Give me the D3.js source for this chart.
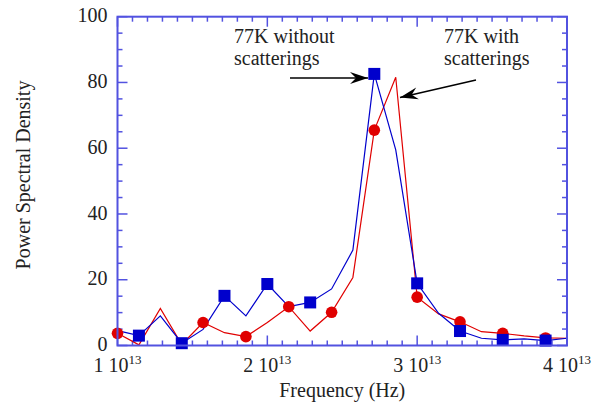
<!DOCTYPE html>
<meta charset="utf-8">
<style>
  body { margin: 0; background: #fff; }
</style>
<script src="https://d3js.org/d3.v7.min.js"></script>
<div id="chart"></div>
<script>

    // frequency in units of 1e13 Hz, one sample every 1/7
    const freq = [1.000, 1.143, 1.286, 1.429, 1.571, 1.714, 1.857, 2.000, 2.143, 2.286, 2.429,
                  2.571, 2.714, 2.857, 3.000, 3.143, 3.286, 3.429, 3.571, 3.714, 3.857, 4.000];
    // 77K without scatterings (blue)
    const psdWithout = [4.5, 3.0, 9.0, 0.7, 4.9, 15.1, 9.0, 18.7, 11.8, 13.1, 17.2,
                        29.0, 82.6, 59.5, 18.9, 9.8, 4.4, 2.2, 1.7, 2.0, 1.5, 2.2];
    // 77K with scatterings (red)
    const psdWith = [3.7, 0.2, 11.3, 0.3, 7.0, 3.9, 2.7, 7.0, 11.8, 4.4, 10.1,
                     20.7, 65.5, 81.6, 14.7, 9.6, 7.2, 4.2, 3.7, 2.9, 2.3, 2.2];
    // which samples carry a marker
    const squareIdx = [1, 3, 5, 7, 9, 12, 14, 16, 18, 20];
    const circleIdx = [0, 4, 6, 8, 10, 12, 14, 16, 18, 20];

    const xTicks = [1, 2, 3, 4];
    const yTicks = [0, 20, 40, 60, 80, 100];

    const W = 600, H = 407;
    const margin = {top: 16.7, right: 33, bottom: 61.5, left: 117.5};
    const width = W - margin.left - margin.right;
    const height = H - margin.top - margin.bottom;

    const axisColor = "#5252e0";
    const blue = "#0000cc";
    const red = "#e00000";
    const serif = "'Liberation Serif', 'DejaVu Serif', serif";

    const svg = d3.select("#chart").append("svg")
        .attr("width", W).attr("height", H)
        .attr("font-family", serif);
    const g = svg.append("g")
        .attr("transform", "translate(" + margin.left + "," + margin.top + ")");

    const x = d3.scaleLinear().domain([1, 4]).range([0, width]);
    const y = d3.scaleLinear().domain([0, 100]).range([height, 0]);

    // inward ticks on all four sides
    const xMinor = d3.range(10, 41).map(d => d / 10);
    const yMinor = d3.range(0, 101, 5);
    const isMajX = d => Math.abs(d - Math.round(d)) < 1e-6;
    const isMajY = d => d % 20 === 0;

    const ticks = g.append("g").attr("stroke", axisColor).attr("stroke-width", 1.5);
    xMinor.forEach(d => {
        const len = isMajX(d) ? 10 : 5;
        ticks.append("line").attr("x1", x(d)).attr("x2", x(d)).attr("y1", height).attr("y2", height - len);
        ticks.append("line").attr("x1", x(d)).attr("x2", x(d)).attr("y1", 0).attr("y2", len);
    });
    yMinor.forEach(d => {
        const len = isMajY(d) ? 10 : 5;
        ticks.append("line").attr("y1", y(d)).attr("y2", y(d)).attr("x1", 0).attr("x2", len);
        ticks.append("line").attr("y1", y(d)).attr("y2", y(d)).attr("x1", width).attr("x2", width - len);
    });

    // lines
    const line = arr => d3.line().x((d, i) => x(freq[i])).y(d => y(d))(arr);
    g.append("path").attr("d", line(psdWith)).attr("fill", "none").attr("stroke", red).attr("stroke-width", 1.2);
    g.append("path").attr("d", line(psdWithout)).attr("fill", "none").attr("stroke", blue).attr("stroke-width", 1.2);

    // markers
    g.selectAll(".circ").data(circleIdx).enter().append("circle")
        .attr("cx", i => x(freq[i])).attr("cy", i => y(psdWith[i])).attr("r", 5.8)
        .attr("fill", red);
    g.selectAll(".sq").data(squareIdx).enter().append("rect")
        .attr("x", i => x(freq[i]) - 6).attr("y", i => y(psdWithout[i]) - 6)
        .attr("width", 12).attr("height", 12).attr("fill", blue);

    // frame
    g.append("rect").attr("width", width).attr("height", height)
        .attr("fill", "none").attr("stroke", axisColor).attr("stroke-width", 2);

    // tick labels
    yTicks.forEach(d => {
        g.append("text").attr("x", -10).attr("y", y(d)).attr("dy", "0.28em")
            .attr("text-anchor", "end").attr("font-size", "20px").attr("fill", "#222").text(d);
    });
    xTicks.forEach(d => {
        const t = g.append("text").attr("x", x(d)).attr("y", height + 27)
            .attr("text-anchor", "middle").attr("font-size", "20px").attr("fill", "#222");
        t.append("tspan").text(d + " 10");
        t.append("tspan").attr("font-size", "13px").attr("dy", -8).text("13");
    });

    // axis titles
    g.append("text").attr("x", width / 2).attr("y", height + 52)
        .attr("text-anchor", "middle").attr("font-size", "20px").attr("fill", "#222").text("Frequency (Hz)");
    svg.append("text").attr("transform", "translate(30,175) rotate(-90)")
        .attr("text-anchor", "middle").attr("font-size", "20px").attr("fill", "#222").text("Power Spectral Density");

    // annotations
    function label(x0, y0, lines) {
        lines.forEach((s, k) => {
            svg.append("text").attr("x", x0).attr("y", y0 + k * 22)
                .attr("font-size", "20px").attr("fill", "#222").text(s);
        });
    }
    label(234, 43, ["77K without", "scatterings"]);
    label(444, 43, ["77K with", "scatterings"]);

    function arrow(x1, y1, x2, y2) {
        svg.append("line").attr("x1", x1).attr("y1", y1).attr("x2", x2).attr("y2", y2)
            .attr("stroke", "#000").attr("stroke-width", 1.5);
        const a = Math.atan2(y2 - y1, x2 - x1);
        const L = 18, Wd = 6, notch = 12;
        const pt = (dx, dy) => [x2 + dx * Math.cos(a) - dy * Math.sin(a), y2 + dx * Math.sin(a) + dy * Math.cos(a)];
        const p = [pt(0, 0), pt(-L, -Wd), pt(-notch, 0), pt(-L, Wd)];
        svg.append("path").attr("d", "M" + p.map(q => q.join(",")).join("L") + "Z").attr("fill", "#000");
    }
    arrow(290, 78, 368, 78);
    arrow(476, 80, 400, 97.5);

</script>
